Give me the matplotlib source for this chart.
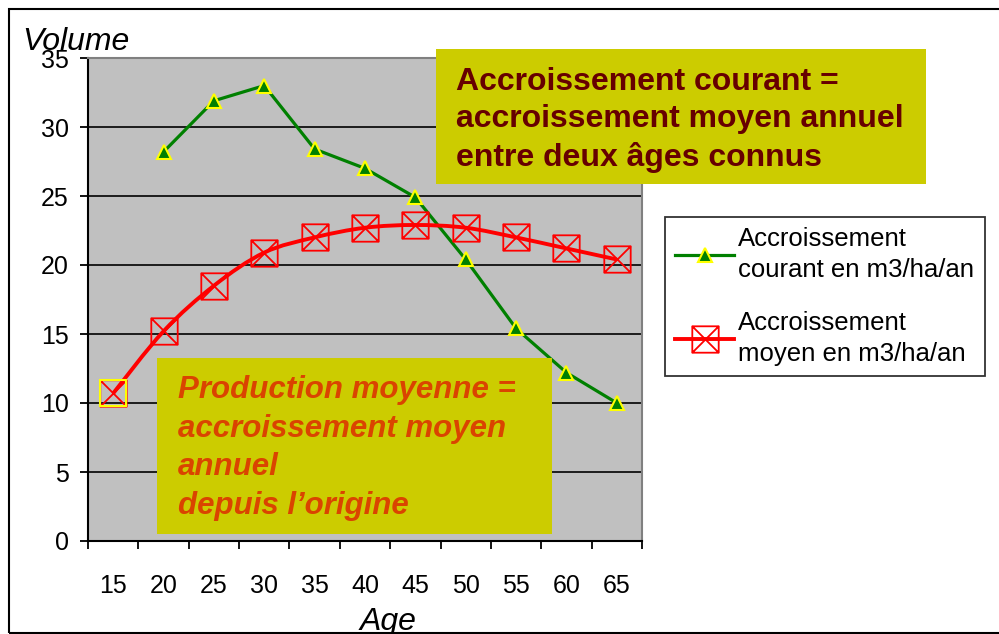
import numpy as np
import matplotlib.pyplot as plt
from matplotlib.path import Path
from matplotlib.patches import PathPatch, Rectangle
from matplotlib.lines import Line2D

plt.rcParams['font.family'] = ['Liberation Sans', 'DejaVu Sans']

# data
ages = ['15', '20', '25', '30', '35', '40', '45', '50', '55', '60', '65']
courant = [np.nan, 28.2, 31.9, 33.0, 28.4, 27.0, 24.9, 20.4, 15.4, 12.2, 10.0]
moyen = [10.7, 15.2, 18.5, 20.9, 22.0, 22.7, 22.9, 22.7, 22.0, 21.2, 20.4]
y_ticks = [0, 5, 10, 15, 20, 25, 30, 35]

label_courant = 'Accroissement\ncourant en m3/ha/an'
label_moyen = 'Accroissement\nmoyen en m3/ha/an'
note_courant = 'Accroissement courant =\naccroissement moyen annuel\nentre deux âges connus'
note_moyen = 'Production moyenne =\naccroissement moyen\nannuel\ndepuis l\u2019origine'

W, H = 999, 634


def fx(px):
    return px / W


def fy(py):
    return 1 - py / H


def smooth_path(xs, ys):
    # excel-like smoothed line (bezier through the points)
    pts = np.column_stack([xs, ys]).astype(float)
    n = len(pts)
    verts = [pts[0]]
    codes = [Path.MOVETO]
    for i in range(n - 1):
        p0 = pts[i - 1] if i > 0 else pts[i]
        p1, p2 = pts[i], pts[i + 1]
        p3 = pts[i + 2] if i + 2 < n else p2
        verts += [p1 + (p2 - p0) / 6, p2 - (p3 - p1) / 6, p2]
        codes += [Path.CURVE4] * 3
    return Path(verts, codes)


# square with a cross inside
box_x = Path([(-1, -1), (1, -1), (1, 1), (-1, 1), (-1, -1),
              (-1, -1), (1, 1), (-1, 1), (1, -1)],
             [Path.MOVETO, Path.LINETO, Path.LINETO, Path.LINETO, Path.CLOSEPOLY,
              Path.MOVETO, Path.LINETO, Path.MOVETO, Path.LINETO])

fig = plt.figure(figsize=(W / 100, H / 100), dpi=100)
ax = fig.add_axes([fx(88), fy(541), fx(642) - fx(88), fy(58) - fy(541)])
ax.set_facecolor('#C0C0C0')

x = np.arange(len(ages))
ax.set_xlim(-0.5, len(ages) - 0.5)
ax.set_ylim(0, 35)

for v in y_ticks[1:-1]:
    ax.axhline(v, color='black', lw=1.2, zorder=1)

green_kw = dict(color='#008000', lw=2.3, marker='^', ms=10,
                mfc='#008000', mec='#FFFF00', mew=1.5)
ax.plot(x, courant, clip_on=False, zorder=3, **green_kw)

ax.add_patch(PathPatch(smooth_path(x, moyen), fc='none', ec='#FF0000',
                       lw=2.8, zorder=4, clip_on=False))
red_kw = dict(color='#FF0000', marker=box_x, ms=19, mfc='none',
              mec='#FF0000', mew=1.3)
ax.plot(x, moyen, ls='none', clip_on=False, zorder=5, **red_kw)
ax.plot(x[:1], moyen[:1], ls='none', marker='s', ms=19, mfc='none',
        mec='#FFFF00', mew=1.5, clip_on=False, zorder=6)

# axes styling
for side in ['top', 'right']:
    ax.spines[side].set_color('#808080')
    ax.spines[side].set_linewidth(1.5)
for side in ['left', 'bottom']:
    ax.spines[side].set_linewidth(1.5)

ax.set_yticks(y_ticks)
ax.tick_params(axis='y', direction='out', length=6, width=1.3,
               labelsize=18, pad=8)
ax.set_xticks(x)
ax.set_xticklabels(ages)
ax.set_xticks(np.arange(len(ages) + 1) - 0.5, minor=True)
ax.tick_params(axis='x', which='major', length=0, labelsize=18, pad=24)
ax.tick_params(axis='x', which='minor', direction='out', length=6, width=1.3)

fig.text(fx(22), fy(50), 'Volume', fontsize=23, style='italic', va='baseline')
fig.text(fx(388), fy(630), 'Age', fontsize=23, style='italic',
         ha='center', va='baseline')

# annotation boxes
fig.patches.append(Rectangle((fx(436), fy(184)), fx(926) - fx(436),
                             fy(49) - fy(184), transform=fig.transFigure,
                             fc='#CCCC00', ec='none', zorder=2))
fig.text(fx(456), fy(67), note_courant, fontsize=23, fontweight='bold',
         color='#660000', va='top', linespacing=1.31, zorder=3)

fig.patches.append(Rectangle((fx(157), fy(534)), fx(552) - fx(157),
                             fy(358) - fy(534), transform=fig.transFigure,
                             fc='#CCCC00', ec='none', zorder=2))
fig.text(fx(178), fy(375), note_moyen, fontsize=22.5, fontweight='bold',
         style='italic', color='#DA4400', va='top', linespacing=1.37, zorder=3)

# outer frame
fig.patches.append(Rectangle((fx(9), fy(633)), 1.0, fy(9) - fy(633),
                             transform=fig.transFigure, fc='none',
                             ec='black', lw=1.5, zorder=5))

handles = [Line2D([], [], **green_kw),
           Line2D([], [], lw=2.8, **red_kw)]
leg = fig.legend(handles, [label_courant, label_moyen], loc='upper left',
                 bbox_to_anchor=(fx(665), fy(217)), fontsize=18.5,
                 frameon=True, fancybox=False, edgecolor='black',
                 handlelength=2.3, handletextpad=0.15, labelspacing=1.15,
                 borderpad=0.4, borderaxespad=0, numpoints=1)
leg.get_frame().set_linewidth(1.3)
for t in leg.get_texts():
    t.set_linespacing(1.35)

fig.savefig('out.png', dpi=100)
